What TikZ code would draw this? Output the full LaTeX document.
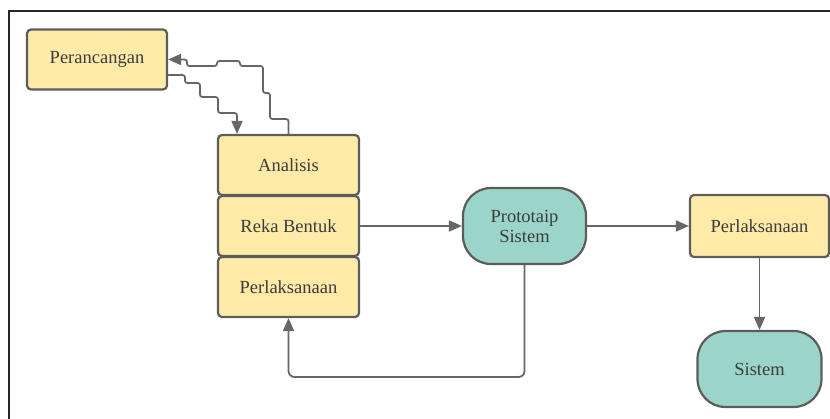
\documentclass[tikz,border=0pt]{standalone}
\usepackage{fontspec}
\setmainfont{Liberation Serif}
\usetikzlibrary{arrows.meta}
\definecolor{boxyellow}{HTML}{FFEAA8}
\definecolor{boxteal}{HTML}{9BD5CA}
\definecolor{edgegrey}{HTML}{5C5C5C}
\definecolor{linegrey}{HTML}{666666}
\definecolor{txtgrey}{HTML}{3C3C3C}
\tikzset{
  ybox/.style={draw=edgegrey, line width=2.2pt, fill=boxyellow, rounded corners=4pt,
    minimum width=140pt, minimum height=60pt, inner sep=0pt, text=txtgrey,
    font=\fontsize{18.5}{20}\selectfont},
  tbox/.style={draw=edgegrey, line width=2.2pt, fill=boxteal, rounded corners=28pt,
    minimum width=123pt, minimum height=76pt, inner sep=0pt, text=txtgrey, align=center,
    font=\fontsize{18.5}{20}\selectfont},
  conn/.style={draw=linegrey, line width=1.8pt, -{Triangle[length=13pt,width=11pt]}},
  wig/.style={conn, rounded corners=2.4pt}
}
\begin{document}
\begin{tikzpicture}[x=1pt,y=-1pt]
\useasboundingbox (0,0) rectangle (830,418);
\draw[line width=2pt, black!85] (8.5,420) -- (8.5,11) -- (832,11);

\node[ybox] (per) at (97,59.5) {Perancangan};
\node[ybox, minimum width=141pt] (ana) at (288.5,165) {Analisis};
\node[ybox, minimum width=141pt] (reka) at (288.5,226) {Reka Bentuk};
\node[ybox, minimum width=141pt] (perl1) at (288.5,287) {Perlaksanaan};
\node[tbox] (proto) at (524.5,226) {Prototaip\\Sistem};
\node[ybox, minimum width=139pt, minimum height=62pt] (perl2) at (759.5,226) {Perlaksanaan};
\node[tbox, minimum width=124pt] (sis) at (759.5,369) {Sistem};

\coordinate (bot) at (400,377);

\draw[conn] (reka.east) -- (proto.west);
\draw[conn] (proto.east) -- (perl2.west);
\draw[conn] (perl2.south) -- (sis.north);
\draw[conn, rounded corners=6pt] (proto.south) |- (bot) -| (perl1.south);

\draw[wig] ([yshift=-15.5pt]per.east) -- (185,75) -- (185,83) -- (200,83) -- (200,97)
  -- (218,97) -- (218,113) -- (237,113) -- ([xshift=-51.5pt]ana.north);
\draw[wig] (ana.north) -- (288.5,119) -- (270,119) -- (270,93) -- (263,93)
  -- (263,66) -- (240,66) -- (240,61) -- (217,61) -- (217,66) -- (187,66) -- (187,59.5)
  -- (per.east);
\end{tikzpicture}
\end{document}
